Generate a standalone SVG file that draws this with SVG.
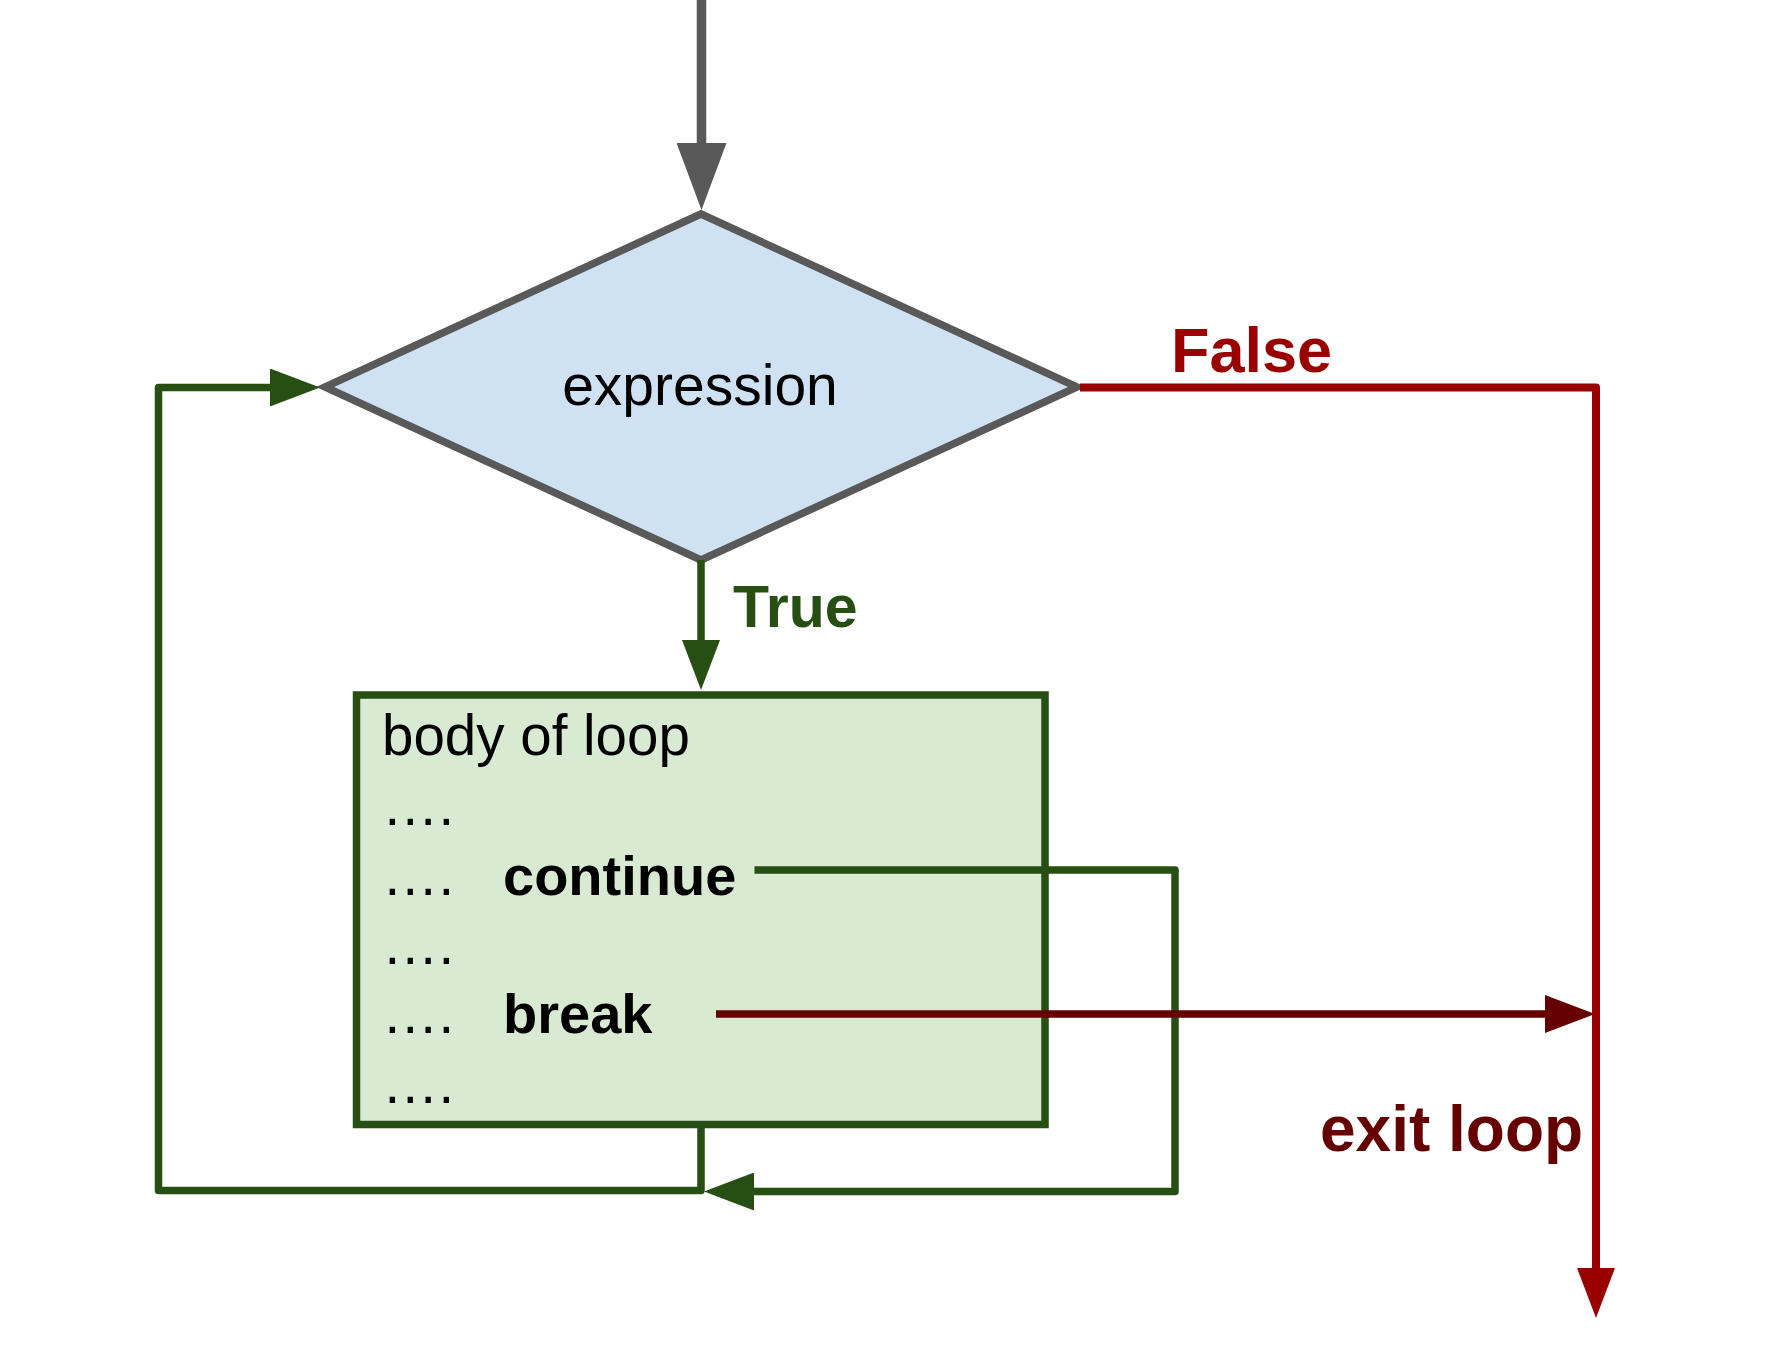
<svg xmlns="http://www.w3.org/2000/svg" width="1780" height="1350" viewBox="0 0 1780 1350">
  <style>
    text { font-family: "Liberation Sans", Arial, sans-serif; }
    .reg { font-size: 56.5px; fill: #000000; }
    .bold { font-weight: bold; }
    .conn { fill: none; stroke-linejoin: round; stroke-linecap: butt; }
    .green { stroke: #274e13; stroke-width: 7.5; }
    .red { stroke: #990000; stroke-width: 8; }
    .dred { stroke: #660000; stroke-width: 7.5; }
    .gray { stroke: #595959; stroke-width: 9.5; }
  </style>
  <defs>
    <marker id="arrGreen" markerUnits="userSpaceOnUse" markerWidth="50" markerHeight="38" refX="10" refY="19" orient="auto">
      <path d="M0,0 L50,19 L0,38 z" fill="#274e13"/>
    </marker>
    <marker id="arrRed" markerUnits="userSpaceOnUse" markerWidth="50" markerHeight="38" refX="10" refY="19" orient="auto">
      <path d="M0,0 L50,19 L0,38 z" fill="#990000"/>
    </marker>
    <marker id="arrDred" markerUnits="userSpaceOnUse" markerWidth="50" markerHeight="38" refX="10" refY="19" orient="auto">
      <path d="M0,0 L50,19 L0,38 z" fill="#660000"/>
    </marker>
    <marker id="arrGray" markerUnits="userSpaceOnUse" markerWidth="67" markerHeight="50" refX="17" refY="25" orient="auto">
      <path d="M0,0 L67,25 L0,50 z" fill="#595959"/>
    </marker>
  </defs>

  <g id="node-expression">
    <polygon points="701,214 1077,387 701,560 325,387" fill="#cfe2f3" stroke="#595959" stroke-width="7.5" stroke-linejoin="miter"/>
    <text x="700" y="405" text-anchor="middle" style="font-size:57px">expression</text>
  </g>

  <g id="node-body">
    <rect x="356.5" y="695" width="688.5" height="429.5" fill="#d9ead3" stroke="#274e13" stroke-width="7.5"/>
    <text x="382" y="755" class="reg">body of loop</text>
    <text x="382" y="825" class="reg">….</text>
    <text x="382" y="895" class="reg">….</text>
    <text x="503" y="895" class="bold" style="font-size:56px">continue</text>
    <text x="382" y="964" class="reg">….</text>
    <text x="382" y="1033" class="reg">….</text>
    <text x="503" y="1033" class="bold" style="font-size:56px">break</text>
    <text x="382" y="1103" class="reg">….</text>
  </g>

  <g id="connectors">
    <path class="conn gray" d="M701.5,0 V160" marker-end="url(#arrGray)"/>
    <path class="conn green" d="M701,560 V650" marker-end="url(#arrGreen)"/>
    <path class="conn green" d="M701,1124 V1190.5 H158.5 V387.5 H280" marker-end="url(#arrGreen)"/>
    <path class="conn green" d="M754.5,870 H1175 V1191.5 H744" marker-end="url(#arrGreen)"/>
    <path class="conn dred" d="M716,1014 H1555" marker-end="url(#arrDred)"/>
    <path class="conn red" d="M1080,387.5 H1596 V1278" marker-end="url(#arrRed)"/>
  </g>

  <g id="labels">
    <text x="1171" y="372" class="bold" fill="#990000" style="font-size:63px">False</text>
    <text x="733" y="627" class="bold" fill="#274e13" style="font-size:59px">True</text>
    <text x="1320" y="1151" class="bold" fill="#660000" style="font-size:64px">exit loop</text>
  </g>
</svg>
